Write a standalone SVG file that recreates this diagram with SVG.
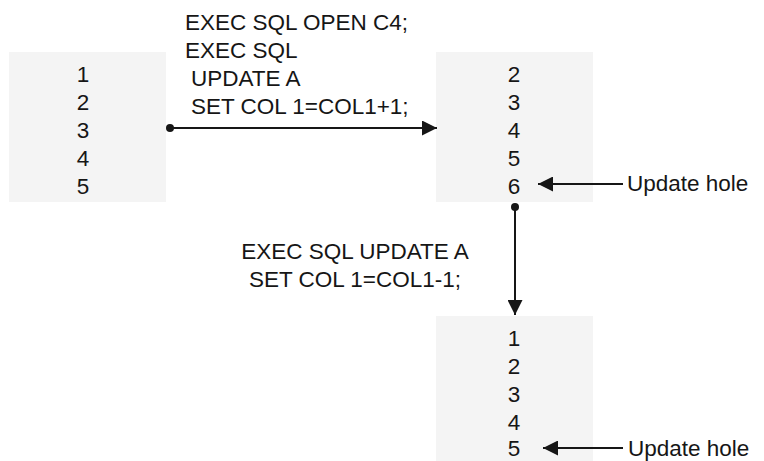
<svg xmlns="http://www.w3.org/2000/svg" width="764" height="461" viewBox="0 0 764 461">
<defs>
<style>
.box{fill:#f4f4f4;}
.t{font-family:"Liberation Sans",Arial,sans-serif;font-size:22.5px;fill:#161616;}
.n{text-anchor:middle;}
.ln{stroke:#161616;stroke-width:2;fill:none;}
.dot{fill:#161616;}
</style>
<marker id="ah" viewBox="0 0 10 10" refX="10" refY="5" markerWidth="15" markerHeight="15" markerUnits="userSpaceOnUse" orient="auto">
<path d="M0,0 L10,5 L0,10 Z" fill="#161616"/>
</marker>
</defs>
<rect width="764" height="461" fill="#ffffff"/>
<g id="table1">
<rect class="box" x="9" y="52" width="157" height="150"/>
<text class="t n" x="83" y="82">1</text>
<text class="t n" x="83" y="110">2</text>
<text class="t n" x="83" y="138">3</text>
<text class="t n" x="83" y="166">4</text>
<text class="t n" x="83" y="194">5</text>
</g>
<g id="table2">
<rect class="box" x="436" y="52" width="157" height="150"/>
<text class="t n" x="514" y="82">2</text>
<text class="t n" x="514" y="110">3</text>
<text class="t n" x="514" y="138">4</text>
<text class="t n" x="514" y="166">5</text>
<text class="t n" x="514" y="194">6</text>
</g>
<g id="table3">
<rect class="box" x="436" y="316" width="157" height="150"/>
<text class="t n" x="514" y="346">1</text>
<text class="t n" x="514" y="374">2</text>
<text class="t n" x="514" y="402">3</text>
<text class="t n" x="514" y="430">4</text>
<text class="t n" x="514" y="456">5</text>
</g>
<g id="connectors">
<circle class="dot" cx="170" cy="128" r="4"/>
<line class="ln" x1="170" y1="128" x2="437" y2="128" marker-end="url(#ah)"/>
<circle class="dot" cx="515" cy="207" r="4"/>
<line class="ln" x1="515" y1="207" x2="515" y2="315" marker-end="url(#ah)"/>
<line class="ln" x1="623" y1="184" x2="538" y2="184" marker-end="url(#ah)"/>
<line class="ln" x1="623" y1="448" x2="543" y2="448" marker-end="url(#ah)"/>
</g>
<g id="label-open">
<text class="t" x="185" y="30">EXEC SQL OPEN C4;</text>
<text class="t" x="185" y="58">EXEC SQL</text>
<text class="t" x="191" y="86">UPDATE A</text>
<text class="t" x="191" y="114">SET COL 1=COL1+1;</text>
</g>
<g id="label-update">
<text class="t n" x="355" y="259">EXEC SQL UPDATE A</text>
<text class="t n" x="355" y="287">SET COL 1=COL1-1;</text>
</g>
<g id="hole1">
<text class="t" x="627" y="191">Update hole</text>
</g>
<g id="hole2">
<text class="t" x="628" y="456">Update hole</text>
</g>
</svg>
